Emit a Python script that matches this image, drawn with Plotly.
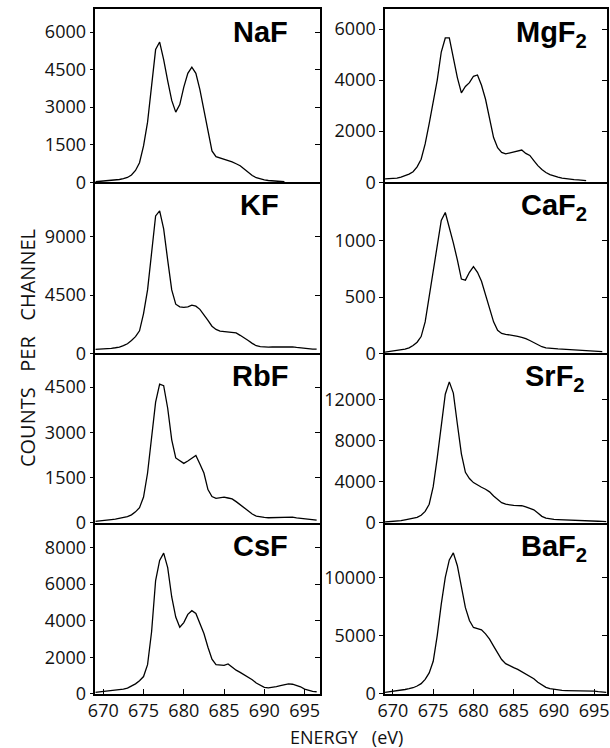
import numpy as np
import plotly.graph_objects as go

# ---------------- data (counts per channel, 0.5 eV channels starting at 669.0 eV) ----------------
E_START = 669.0
E_STEP = 0.5

naf = [20, 30, 40, 50, 65, 80, 110, 140, 190, 290, 470, 780, 1450, 2400, 3900, 5300, 5600, 4900,
       4050, 3270, 2800, 3100, 3800, 4350, 4600, 4350, 3700, 2850, 1950, 1250, 1020, 970, 930, 870,
       810, 740, 660, 530, 400, 270, 180, 130, 95, 70, 50, 40, 30, 20]
mgf2 = [130, 140, 150, 165, 200, 250, 320, 410, 600, 900, 1500, 2300, 3200, 4000, 5100, 5650, 5650,
        4800, 4100, 3500, 3750, 3900, 4150, 4200, 3800, 3250, 2450, 1750, 1350, 1170, 1110, 1150, 1180,
        1230, 1260, 1130, 1050, 850, 650, 500, 380, 300, 240, 200, 160, 130, 115, 100, 90, 75, 65]
kf = [310, 320, 340, 360, 400, 440, 490, 600, 750, 1000, 1300, 1750, 3080, 4900, 7700, 10600, 11000,
      9600, 7200, 4900, 3800, 3600, 3550, 3600, 3720, 3650, 3400, 3000, 2550, 2100, 1850, 1720, 1680,
      1650, 1630, 1580, 1400, 1220, 1000, 780, 600, 520, 490, 490, 500, 510, 520, 540, 530, 510, 470,
      430, 380, 350, 340, 330]
caf2 = [12, 16, 20, 25, 30, 38, 50, 70, 100, 150, 280, 500, 710, 920, 1180, 1250, 1120, 980, 830, 660,
        650, 720, 770, 720, 640, 520, 400, 280, 205, 178, 170, 165, 158, 152, 142, 132, 115, 95, 75, 60,
        50, 45, 42, 40, 38, 36, 34, 32, 30, 28, 25, 23, 20, 18, 16]
rbf = [45, 55, 70, 90, 105, 120, 140, 165, 200, 260, 360, 500, 850, 1650, 2800, 4000, 4600, 4550, 3800,
       2750, 2150, 2050, 1970, 2050, 2150, 2230, 1950, 1650, 1100, 870, 810, 820, 850, 820, 790, 700, 600,
       480, 370, 290, 220, 190, 175, 165, 170, 180, 190, 195, 195, 185, 160, 140, 120, 100, 90, 85]
srf2 = [65, 80, 110, 140, 200, 280, 350, 420, 520, 720, 1100, 1800, 3500, 6300, 9600, 12500, 13700,
        12600, 9600, 6700, 4900, 4300, 3900, 3650, 3450, 3250, 3000, 2600, 2230, 1950, 1800, 1720, 1680,
        1660, 1650, 1540, 1420, 1250, 950, 620, 450, 360, 320, 300, 290, 275, 260, 240, 225, 210, 195,
        180, 160, 140, 120, 100]
csf = [90, 110, 130, 150, 175, 195, 220, 260, 320, 420, 550, 720, 950, 1600, 3400, 6200, 7300, 7700,
       6900, 5300, 4200, 3650, 3900, 4350, 4550, 4400, 3900, 3300, 2550, 1900, 1600, 1560, 1560, 1640,
       1450, 1300, 1180, 1060, 920, 780, 600, 460, 360, 330, 350, 400, 450, 510, 545, 530, 480, 390,
       260, 180, 140, 120]
baf2 = [140, 180, 230, 270, 320, 380, 450, 530, 680, 880, 1250, 1800, 2800, 5000, 7700, 10000, 11500,
        12100, 11000, 9200, 7400, 6300, 5700, 5600, 5500, 5150, 4700, 4100, 3500, 2950, 2600, 2400, 2250,
        2100, 1900, 1700, 1550, 1300, 1000, 750, 560, 450, 380, 330, 300, 290, 285, 285, 290, 290, 285,
        270, 240, 200, 160, 140]

labels = ["NaF", "KF", "RbF", "CsF", "MgF<sub>2</sub>", "CaF<sub>2</sub>", "SrF<sub>2</sub>", "BaF<sub>2</sub>"]
series = [naf, kf, rbf, csf, mgf2, caf2, srf2, baf2]
y_max = [6920, 13200, 5618, 9360, 6784, 1518, 16460, 14690]
y_ticks = [[0, 1500, 3000, 4500, 6000], [0, 4500, 9000], [0, 1500, 3000, 4500], [0, 2000, 4000, 6000, 8000],
           [0, 2000, 4000, 6000], [0, 500, 1000], [0, 4000, 8000, 12000], [0, 5000, 10000]]
x_ticks = [670, 675, 680, 685, 690, 695]

# ---------------- layout geometry (target picture pixels) ----------------
W, H = 610, 748
FIG_H = 760


def px(p):
    return p / W


def py(p):
    return 1 - p / H


col_px = [(89, 318), (384, 610)]
x_ranges = [[669.02, 696.95], [669.02, 696.59]]
row_px = [(9, 182), (182, 353), (353, 522), (522, 693)]
title_right = [287, 278, 287, 287, 592, 592, 590, 592]

fig = go.Figure()
layout = dict(
    width=W, height=FIG_H, margin=dict(l=0, r=0, t=0, b=0),
    paper_bgcolor="white", plot_bgcolor="white", showlegend=False,
)
annotations = []
tick_font = dict(family="Open Sans, DejaVu Sans, sans-serif", size=18, color="#111")

for k, (lab, vals) in enumerate(zip(labels, series)):
    col = k // 4
    row = k % 4
    n = k + 1
    m = n + 8
    xa = "xaxis" if n == 1 else f"xaxis{n}"
    ya = "yaxis" if n == 1 else f"yaxis{n}"
    xr = "x" if n == 1 else f"x{n}"
    yr = "y" if n == 1 else f"y{n}"
    energies = E_START + E_STEP * np.arange(len(vals))
    fig.add_trace(go.Scatter(x=energies, y=vals, mode="lines", line=dict(color="black", width=1.3),
                             xaxis=xr, yaxis=yr, hoverinfo="skip"))
    # invisible copy on an overlaying right-hand axis, which carries the inward mirror ticks
    fig.add_trace(go.Scatter(x=energies, y=vals, mode="lines", line=dict(color="rgba(0,0,0,0)", width=0),
                             xaxis=xr, yaxis=f"y{m}", hoverinfo="skip"))
    x0, x1 = col_px[col]
    top, bot = row_px[row]
    bottom_row = row == 3
    layout[xa] = dict(
        domain=[px(x0), min(px(x1), 1.0)], range=x_ranges[col], anchor=yr,
        showgrid=False, zeroline=False, showline=True, linecolor="black", linewidth=1.5,
        mirror=(row == 0),
        tickvals=x_ticks, ticks="inside" if bottom_row else "", ticklen=5, tickcolor="black",
        showticklabels=bottom_row, tickfont=tick_font, ticklabeloverflow="allow",
    )
    layout[ya] = dict(
        domain=[py(bot), py(top)], range=[0, y_max[k]], anchor=xr,
        showgrid=False, zeroline=False, showline=True, linecolor="black", linewidth=1.5, mirror=True,
        tickvals=y_ticks[k], ticktext=[str(v) for v in y_ticks[k]], ticks="outside", ticklen=4,
        tickcolor="black", tickfont=tick_font,
    )
    layout[f"yaxis{m}"] = dict(
        overlaying=yr, side="right", anchor=xr, range=[0, y_max[k]], tickvals=y_ticks[k],
        ticks="inside", ticklen=5, tickcolor="black", showticklabels=False,
        showgrid=False, zeroline=False, showline=False,
    )
    annotations.append(dict(
        text=lab, xref="paper", yref="paper", x=px(title_right[k]), y=py(top + 5),
        xanchor="right", yanchor="top", showarrow=False,
        font=dict(family="Liberation Sans, Arial, sans-serif", size=29, color="black", weight="bold"),
    ))

annotations.append(dict(
    text="COUNTS\u00a0\u00a0\u00a0PER\u00a0\u00a0\u00a0CHANNEL", xref="paper", yref="paper",
    x=px(20), y=py(348), xanchor="center", yanchor="middle", textangle=-90, showarrow=False,
    font=dict(family="Open Sans, DejaVu Sans, sans-serif", size=20, color="#111"),
))
annotations.append(dict(
    text="ENERGY\u00a0\u00a0\u00a0(eV)", xref="paper", yref="paper",
    x=px(345), y=py(736), xanchor="center", yanchor="middle", showarrow=False,
    font=dict(family="Open Sans, DejaVu Sans, sans-serif", size=18, color="#111"),
))
layout["annotations"] = annotations
fig.update_layout(**layout)

page_fix = (
    "var gd=document.getElementById('{plot_id}');"
    "gd.style.position='fixed';gd.style.left='0px';gd.style.top='0px';"
    "document.body.style.margin='0';document.body.style.overflow='hidden';"
    "document.documentElement.style.overflow='hidden';"
)
fig.write_html("out.html", config={"displayModeBar": False}, post_script=page_fix)
